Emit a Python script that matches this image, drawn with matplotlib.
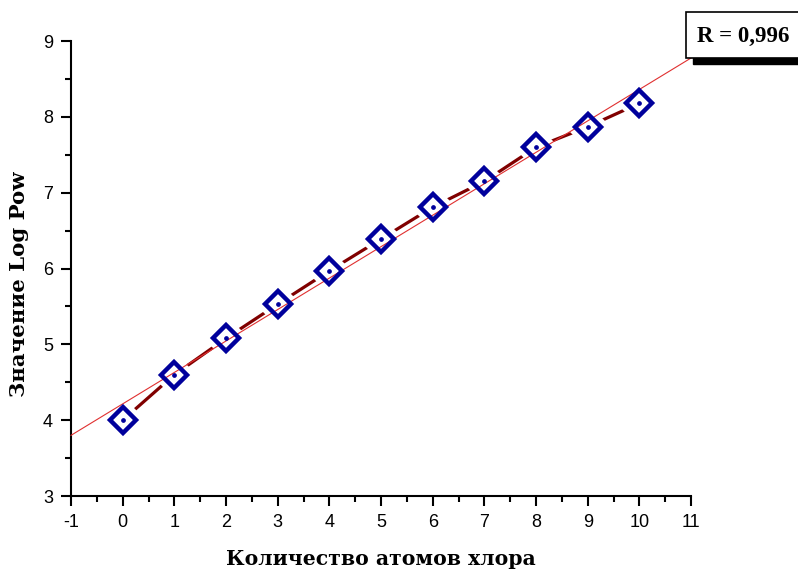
import numpy as np
import matplotlib
matplotlib.use("Agg")
import matplotlib.pyplot as plt
from matplotlib.patches import Rectangle
from matplotlib.ticker import MultipleLocator

plt.rcParams["font.family"] = ["Liberation Sans", "DejaVu Sans"]
plt.rcParams["axes.unicode_minus"] = False

# число атомов хлора и значения Log Pow
atoms = [0, 1, 2, 3, 4, 5, 6, 7, 8, 9, 10]
log_pow = [4.00, 4.60, 5.08, 5.53, 5.97, 6.39, 6.81, 7.15, 7.60, 7.87, 8.18]
r_label = "R = 0,996"

x = np.array(atoms, dtype=float)
y = np.array(log_pow)
k, b = np.polyfit(x, y, 1)

fig = plt.figure(figsize=(7.98, 5.71), dpi=100)
ax = fig.add_axes([0.089, 0.1313, 0.777, 0.7967])

# соединяющая линия
ax.plot(x, y, color="#800000", lw=2.3, zorder=2)
# белый ореол вокруг маркеров (разрыв линии)
ax.plot(x, y, ls="none", marker="D", ms=22, mfc="white", mec="white", zorder=3)
# линия регрессии
xf = np.array([-1, 12.2])
ax.plot(xf, k * xf + b, color="#e03030", lw=0.8, zorder=4, clip_on=False)
# маркеры
ax.plot(x, y, ls="none", marker="D", ms=13.5, mfc="none", mec="#00009c", mew=3.2, zorder=5)
ax.plot(x, y, ls="none", marker="o", ms=2.4, mfc="#00009c", mec="#00009c", zorder=6)

ax.set_xlim(-1, 11)
ax.set_ylim(3, 9)
ax.xaxis.set_major_locator(MultipleLocator(1))
ax.xaxis.set_minor_locator(MultipleLocator(0.5))
ax.yaxis.set_major_locator(MultipleLocator(1))
ax.yaxis.set_minor_locator(MultipleLocator(0.5))
for s in ("top", "right"):
    ax.spines[s].set_visible(False)
for s in ("left", "bottom"):
    ax.spines[s].set_linewidth(1.5)
ax.tick_params(which="major", direction="out", length=7, width=1.5,
               labelsize=13, pad=6)
ax.tick_params(which="minor", direction="out", length=4, width=1.5)

ax.set_xlabel("Количество атомов хлора", family="DejaVu Serif", fontweight="bold",
              fontsize=14.7, labelpad=13)
ax.set_ylabel("Значение Log Pow", family="DejaVu Serif", fontweight="bold",
              fontsize=15.3, labelpad=20)
ax.yaxis.set_label_coords(-0.067, 0.465)

# рамка с коэффициентом корреляции
W, H = 798.0, 571.0
fig.patches.append(Rectangle((693 / W, 1 - 64 / H), 130 / W, 46 / H,
                             transform=fig.transFigure, facecolor="black",
                             edgecolor="black", zorder=10))
fig.patches.append(Rectangle((686 / W, 1 - 58 / H), 130 / W, 46 / H,
                             transform=fig.transFigure, facecolor="white",
                             edgecolor="black", lw=1.2, zorder=11))
fig.text(697 / W, 1 - 36 / H, r_label, family="Liberation Serif", fontweight="bold",
         fontsize=16.5, va="center", ha="left", zorder=12)

fig.savefig("out.png", dpi=100)
